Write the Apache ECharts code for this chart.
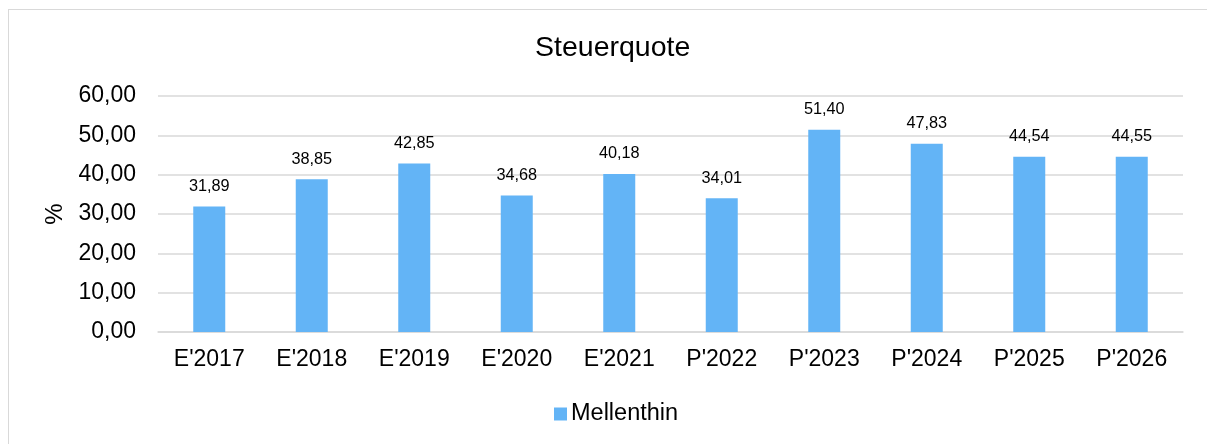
<!DOCTYPE html>
<html><head><meta charset="utf-8">
<script src="https://cdn.jsdelivr.net/npm/echarts@6/dist/echarts.min.js"></script>
<style>html,body{margin:0;padding:0;background:#fff}#c{width:1207px;height:444px}
#frame{position:absolute;left:8px;top:9px;width:1210px;height:440px;border:1px solid #d9d9d9;box-sizing:border-box;pointer-events:none}</style>
</head><body><div id="c"></div><div id="frame"></div>
<script>
const categories = ["E'2017","E'2018","E'2019","E'2020","E'2021","P'2022","P'2023","P'2024","P'2025","P'2026"];
const mellenthin = [31.89,38.85,42.85,34.68,40.18,34.01,51.40,47.83,44.54,44.55];
const yTicks = [0,10,20,30,40,50,60];
const fmt = v => v.toFixed(2).replace('.', ',');
const chart = echarts.init(document.getElementById('c'));
chart.setOption({
  animation:false,
  textStyle:{fontFamily:'Liberation Sans, Arial, sans-serif'},
  title:{text:'Steuerquote',left:530,top:29,textStyle:{fontSize:28.5,fontWeight:'normal',color:'#000'}},
  grid:{left:158,right:24,top:96,bottom:112},
  legend:{top:397,left:549,itemWidth:13,itemHeight:13,icon:'rect',itemGap:4,
    textStyle:{fontSize:23.5,color:'#000',padding:[0,0,0,-1]},data:['Mellenthin']},
  xAxis:{type:'category',data:categories,axisLine:{lineStyle:{color:'#d9d9d9',width:1.5}},axisTick:{show:false},
    axisLabel:{fontSize:23,color:'#000',margin:16}},
  yAxis:{type:'value',min:yTicks[0],max:yTicks[yTicks.length-1],interval:10,name:'%',nameLocation:'middle',nameGap:90,
    nameRotate:90,nameTextStyle:{fontSize:24,color:'#000'},
    axisLine:{show:false},axisTick:{show:false},
    axisLabel:{fontSize:23,color:'#000',margin:22,formatter:fmt},
    splitLine:{lineStyle:{color:'#d9d9d9',width:1.5}}},
  series:[{name:'Mellenthin',type:'bar',data:mellenthin,barWidth:32,itemStyle:{color:'#63b4f6'},
    label:{show:true,position:'top',distance:12,fontSize:16.3,color:'#000',formatter:p=>fmt(p.value)}}]
});
</script></body></html>
